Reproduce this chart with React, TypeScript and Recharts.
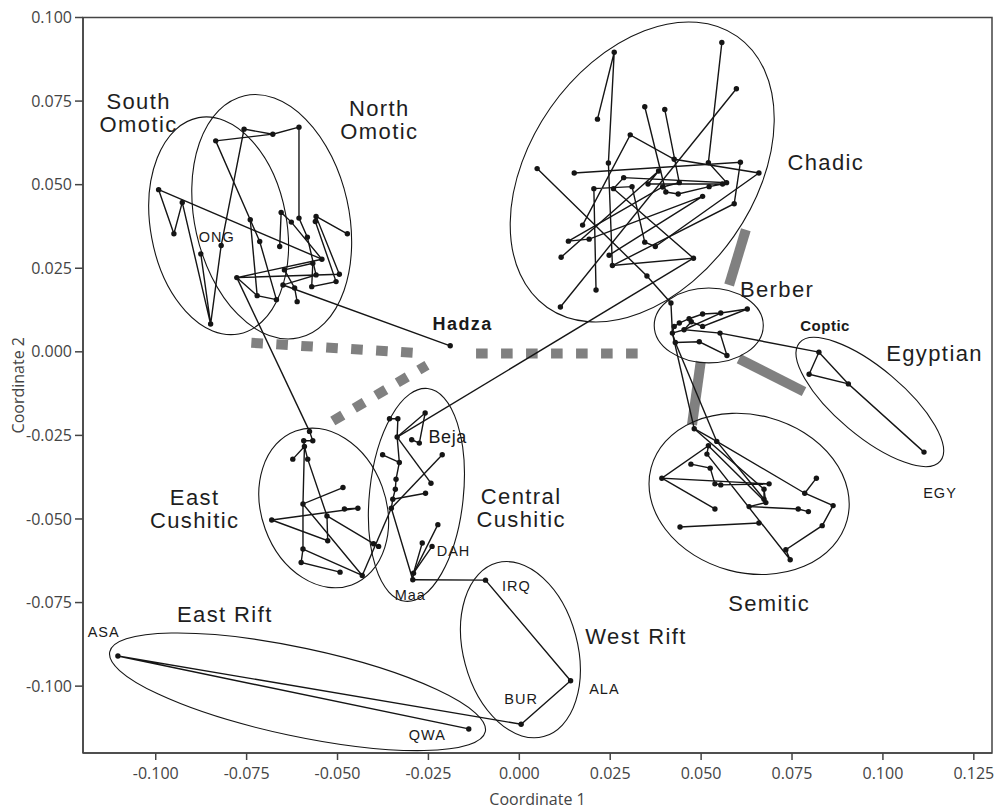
import React from 'react';
import { ScatterChart, Scatter, XAxis, YAxis, ReferenceLine, ReferenceArea } from 'recharts';

type Sample = [string, number, number];

// ---- axes ----
const X_DOMAIN: [number, number] = [-0.12, 0.13];
const Y_DOMAIN: [number, number] = [-0.12, 0.1];
const xTicks = [-0.1, -0.075, -0.05, -0.025, 0, 0.025, 0.05, 0.075, 0.1, 0.125];
const yTicks = [-0.1, -0.075, -0.05, -0.025, 0, 0.025, 0.05, 0.075, 0.1];

// ---- populations (Coordinate 1, Coordinate 2) ----
const omoticSamples: Sample[] = [
  ['o1', -0.0992, 0.0485], ['o2', -0.095, 0.0353], ['o3', -0.0927, 0.0447],
  ['o4', -0.0876, 0.0293], ['o5', -0.0849, 0.0083], ['o6', -0.082, 0.0318],
  ['o7', -0.0835, 0.0631], ['o8', -0.0757, 0.0666], ['o9', -0.0678, 0.0651],
  ['o10', -0.0606, 0.0672], ['o11', -0.0606, 0.04], ['o12', -0.0655, 0.0417],
  ['o13', -0.0659, 0.0315], ['o14', -0.0627, 0.0388], ['o15', -0.074, 0.0395],
  ['o16', -0.0714, 0.033], ['o17', -0.0583, 0.0343], ['o18', -0.0559, 0.0405],
  ['o19', -0.0561, 0.039], ['o20', -0.0473, 0.0353], ['o21', -0.0543, 0.0277],
  ['o22', -0.0568, 0.0265], ['o23', -0.0646, 0.0245], ['o24', -0.0495, 0.0232],
  ['o25', -0.0559, 0.023], ['o26', -0.0504, 0.021], ['o27', -0.0571, 0.0195],
  ['o28', -0.0777, 0.0222], ['o29', -0.065, 0.02], ['o30', -0.0618, 0.0191],
  ['o31', -0.0721, 0.0168], ['o32', -0.0668, 0.0156], ['o33', -0.0611, 0.015],
];
const hadzaSample: Sample[] = [['hadza', -0.019, 0.0018]];

const chadicSamples: Sample[] = [
  ['c1', 0.0261, 0.0896], ['c2', 0.0215, 0.0696], ['c3', 0.0557, 0.0925],
  ['c4', 0.0597, 0.0787], ['c5', 0.0345, 0.0733], ['c6', 0.04, 0.0725],
  ['c7', 0.0305, 0.0649], ['c8', 0.0049, 0.0548], ['c9', 0.0151, 0.0535],
  ['c10', 0.0245, 0.0565], ['c11', 0.0426, 0.0576], ['c12', 0.052, 0.0566],
  ['c13', 0.0608, 0.0567], ['c14', 0.0659, 0.0535], ['c15', 0.0287, 0.0521],
  ['c16', 0.0383, 0.0541], ['c17', 0.0205, 0.0488], ['c18', 0.0259, 0.0488],
  ['c19', 0.031, 0.0494], ['c20', 0.0354, 0.0502], ['c21', 0.0394, 0.0493],
  ['c22', 0.0403, 0.0478], ['c23', 0.0437, 0.0472], ['c24', 0.044, 0.0506],
  ['c25', 0.0504, 0.0465], ['c26', 0.0522, 0.0494], ['c27', 0.0559, 0.0502],
  ['c28', 0.057, 0.0506], ['c29', 0.0591, 0.0443], ['c30', 0.0174, 0.0379],
  ['c31', 0.0135, 0.0331], ['c32', 0.0192, 0.0337], ['c33', 0.0115, 0.0283],
  ['c34', 0.0247, 0.0289], ['c35', 0.0345, 0.0328], ['c36', 0.0374, 0.0315],
  ['c37', 0.0256, 0.0258], ['c38', 0.0479, 0.028], ['c39', 0.0351, 0.0227],
  ['c40', 0.0211, 0.0185], ['c41', 0.0113, 0.0134],
];

const berberSamples: Sample[] = [
  ['b1', 0.0417, 0.0146], ['b2', 0.0627, 0.0128], ['b3', 0.0554, 0.0116],
  ['b4', 0.0504, 0.0113], ['b5', 0.0467, 0.0099], ['b6', 0.044, 0.0086],
  ['b7', 0.0426, 0.0076], ['b8', 0.0421, 0.0056], ['b9', 0.0429, 0.0028],
  ['b10', 0.0495, 0.003], ['b11', 0.0552, 0.0056], ['b12', 0.0571, -0.0011],
  ['b13', 0.0504, 0.0076], ['b14', 0.0453, 0.0066], ['b15', 0.0473, 0.009],
];

const egyptianSamples: Sample[] = [
  ['e1', 0.0824, -0.0001], ['e2', 0.0797, -0.0067], ['e3', 0.0905, -0.0096],
  ['e4', 0.1113, -0.03],
];

const semiticSamples: Sample[] = [
  ['s1', 0.0481, -0.023], ['s2', 0.0543, -0.0268], ['s3', 0.052, -0.0281],
  ['s4', 0.0516, -0.0306], ['s5', 0.0472, -0.0336], ['s6', 0.0525, -0.0348],
  ['s7', 0.0392, -0.0378], ['s8', 0.0538, -0.0395], ['s9', 0.0554, -0.0398],
  ['s10', 0.0687, -0.0395], ['s11', 0.0673, -0.0411], ['s12', 0.0817, -0.0378],
  ['s13', 0.0785, -0.0423], ['s14', 0.0673, -0.0441], ['s15', 0.0678, -0.0451],
  ['s16', 0.0863, -0.046], ['s17', 0.0632, -0.0463], ['s18', 0.0767, -0.047],
  ['s19', 0.0795, -0.0478], ['s20', 0.0538, -0.047], ['s21', 0.0659, -0.0512],
  ['s22', 0.0442, -0.0524], ['s23', 0.0833, -0.052], ['s24', 0.0733, -0.0592],
  ['s25', 0.0745, -0.0622],
];

const eastCushiticSamples: Sample[] = [
  ['k1', -0.0577, -0.0238], ['k2', -0.0568, -0.0266], ['k3', -0.0593, -0.0266],
  ['k4', -0.0591, -0.0283], ['k5', -0.0623, -0.0321], ['k6', -0.0582, -0.0321],
  ['k7', -0.0485, -0.0406], ['k8', -0.0595, -0.0455], ['k9', -0.0481, -0.047],
  ['k10', -0.0444, -0.0468], ['k11', -0.0529, -0.0491], ['k12', -0.0681, -0.0503],
  ['k13', -0.0527, -0.0565], ['k14', -0.0595, -0.059], ['k15', -0.06, -0.063],
  ['k16', -0.0401, -0.0574], ['k17', -0.0387, -0.0582], ['k18', -0.0493, -0.0659],
  ['k19', -0.0432, -0.0669],
];

const centralCushiticSamples: Sample[] = [
  ['q1', -0.0357, -0.02], ['q2', -0.0334, -0.02], ['q3', -0.0259, -0.0183],
  ['q4', -0.0275, -0.0273], ['q5', -0.0296, -0.0263], ['q6', -0.0336, -0.0255],
  ['q7', -0.0376, -0.0308], ['q8', -0.033, -0.0331], ['q9', -0.0212, -0.0308],
  ['q10', -0.0339, -0.0381], ['q11', -0.0243, -0.0393], ['q12', -0.0341, -0.0411],
  ['q13', -0.0258, -0.0423], ['q14', -0.0348, -0.0441], ['q15', -0.0352, -0.0468],
  ['q16', -0.0224, -0.0517], ['q17', -0.0267, -0.0572], ['q18', -0.024, -0.0582],
  ['q19', -0.0291, -0.0662], ['q20', -0.0293, -0.0682],
];

const riftSamples: Sample[] = [
  ['irq', -0.0093, -0.0683], ['ala', 0.0141, -0.0984], ['bur', 0.0005, -0.1114],
  ['asa', -0.1104, -0.091], ['qwa', -0.0139, -0.1128],
];

// ---- network paths (sample ids, drawn in order) ----
const omoticLinks: string[][] = [
  ['o1', 'o2', 'o3', 'o5', 'o4', 'o5', 'o6', 'o8', 'o9', 'o10', 'o11', 'o17', 'o25', 'o29', 'hadza'],
  ['o7', 'o9'],
  ['o7', 'o15', 'o16', 'o32'],
  ['o1', 'o21'],
  ['o13', 'o12', 'o14', 'o21', 'o28', 'o24', 'o18', 'o20'],
  ['o19', 'o26', 'o27', 'o22', 'o23', 'o30', 'o33'],
  ['o28', 'o31', 'o32'],
  ['o15', 'o31'],
  ['o28', 'k1'],
];
const chadicLinks: string[][] = [
  ['c2', 'c1', 'c10', 'c37', 'c38', 'c18', 'c15', 'c28', 'c12', 'c3'],
  ['c41', 'c4'],
  ['c8', 'c39', 'b1'],
  ['c9', 'c13', 'c29', 'c37'],
  ['c30', 'c7', 'c11', 'c14', 'c36', 'c35', 'c19', 'c17', 'c40'],
  ['c5', 'c22', 'c23', 'c26', 'c27', 'c20', 'c16', 'c33'],
  ['c6', 'c24', 'c21', 'c31', 'c32', 'c25', 'c34'],
  ['q6', 'c38'],
];
const berberLinks: string[][] = [
  ['b2', 'b3', 'b4', 'b5', 'b6', 'b7', 'b8', 'b14', 'b3'],
  ['b1', 'b8', 'b9', 'b10', 'b12', 'b11', 'b14', 'b15', 'b13', 'b2'],
  ['b11', 'e1'],
  ['b8', 's1'],
  ['b9', 's2'],
];
const egyptianLinks: string[][] = [['e4', 'e3', 'e2', 'e1', 'e3']];
const semiticLinks: string[][] = [
  ['s1', 's2', 's13', 's16', 's23', 's24', 's25', 's4', 's3', 's7', 's10', 's9', 's8', 's6', 's5'],
  ['s7', 's20'],
  ['s12', 's13'],
  ['s22', 's21'],
  ['s17', 's18', 's19'],
  ['s2', 's14', 's15', 's11'],
  ['s3', 's15', 's17'],
  ['s1', 's11', 's14'],
];
const cushiticLinks: string[][] = [
  ['k1', 'k2', 'k3', 'k4', 'k5'],
  ['k4', 'k8', 'k14', 'k15', 'k18'],
  ['k4', 'k6', 'k11', 'k13', 'k12', 'k10', 'k9'],
  ['k7', 'k8', 'k19', 'k14'],
  ['k11', 'k16', 'k17'],
  ['k19', 'q15'],
  ['q1', 'q2', 'q6', 'q8', 'q10', 'q12', 'q14', 'q15', 'q20', 'q19', 'q16'],
  ['q6', 'q3', 'q4', 'q5'],
  ['q7', 'q8'],
  ['q6', 'q11'],
  ['q9', 'q15'],
  ['q13', 'q14'],
  ['q17', 'q19', 'q18'],
];
const riftLinks: string[][] = [['q20', 'irq', 'ala', 'bur', 'asa', 'qwa']];

// ---- group ellipses: centre, semi-axes (axis units) and tilt in degrees ----
const groupEllipses = [
  { name: 'South Omotic', x: -0.0827, y: 0.0377, rx: 0.0187, ry: 0.0329, angle: -10.5 },
  { name: 'North Omotic', x: -0.0681, y: 0.0404, rx: 0.0212, ry: 0.0371, angle: -12.6 },
  { name: 'Chadic', x: 0.0338, y: 0.0538, rx: 0.0308, ry: 0.0495, angle: 35 },
  { name: 'Berber', x: 0.0521, y: 0.0079, rx: 0.015, ry: 0.0112, angle: 0 },
  { name: 'Egyptian', x: 0.0964, y: -0.015, rx: 0.0093, ry: 0.0275, angle: -50 },
  { name: 'Semitic', x: 0.0632, y: -0.0425, rx: 0.0279, ry: 0.0236, angle: 15 },
  { name: 'East Cushitic', x: -0.0538, y: -0.0467, rx: 0.0171, ry: 0.0245, angle: -20 },
  { name: 'Central Cushitic', x: -0.0283, y: -0.0428, rx: 0.0129, ry: 0.032, angle: 6 },
  { name: 'East Rift', x: -0.061, y: -0.1017, rx: 0.0528, ry: 0.0132, angle: 12 },
  { name: 'West Rift', x: 0.0003, y: -0.0891, rx: 0.0157, ry: 0.0269, angle: -15 },
];

// ---- grey connectors between branches ----
const solidConnectors = [
  [{ x: 0.0623, y: 0.0365 }, { x: 0.0577, y: 0.02 }],
  [{ x: 0.0499, y: -0.0029 }, { x: 0.0475, y: -0.0218 }],
  [{ x: 0.0604, y: -0.0021 }, { x: 0.0783, y: -0.0119 }],
];
const dottedConnectors = [
  [{ x: -0.0737, y: 0.0027 }, { x: -0.0293, y: -0.0003 }],
  [{ x: -0.0119, y: -0.0005 }, { x: 0.033, y: -0.0005 }],
  [{ x: -0.0513, y: -0.0207 }, { x: -0.0254, y: -0.004 }],
];

// ---- text ----
const groupLabels = [
  { lines: ['South', 'Omotic'], x: -0.1047, y: 0.0749 },
  { lines: ['North', 'Omotic'], x: -0.0385, y: 0.073 },
  { lines: ['Chadic'], x: 0.0843, y: 0.0568 },
  { lines: ['Berber'], x: 0.0709, y: 0.0189 },
  { lines: ['Egyptian'], x: 0.1142, y: -0.0003 },
  { lines: ['Semitic'], x: 0.0687, y: -0.0751 },
  { lines: ['East', 'Cushitic'], x: -0.0893, y: -0.0434 },
  { lines: ['Central', 'Cushitic'], x: 0.0005, y: -0.0431 },
  { lines: ['East Rift'], x: -0.081, y: -0.0784 },
  { lines: ['West Rift'], x: 0.0321, y: -0.085 },
];
const sampleLabels = [
  { text: 'ONG', x: -0.0832, y: 0.0344, kind: 'small' },
  { text: 'Hadza', x: -0.0156, y: 0.0084, kind: 'hadza' },
  { text: 'Beja', x: -0.0197, y: -0.0256, kind: 'beja' },
  { text: 'DAH', x: -0.0181, y: -0.0595, kind: 'small' },
  { text: 'Maa', x: -0.03, y: -0.0727, kind: 'small' },
  { text: 'IRQ', x: -0.0008, y: -0.07, kind: 'small' },
  { text: 'ALA', x: 0.0234, y: -0.1008, kind: 'small' },
  { text: 'BUR', x: 0.0005, y: -0.1038, kind: 'small' },
  { text: 'QWA', x: -0.0253, y: -0.1146, kind: 'small' },
  { text: 'ASA', x: -0.1143, y: -0.0838, kind: 'small' },
  { text: 'Coptic', x: 0.0841, y: 0.0079, kind: 'coptic' },
  { text: 'EGY', x: 0.1157, y: -0.0422, kind: 'small' },
];

// ---- layout ----
const CHART_W = 996;
const CHART_H = 809;
const MARGIN = { top: 17.5, right: 4, bottom: 0, left: 0 };
const Y_AXIS_W = 83;
const X_AXIS_H = 56;
const PLOT_W = CHART_W - MARGIN.left - MARGIN.right - Y_AXIS_W;
const PLOT_H = CHART_H - MARGIN.top - MARGIN.bottom - X_AXIS_H;
const PX_PER_X = PLOT_W / (X_DOMAIN[1] - X_DOMAIN[0]);
const PX_PER_Y = PLOT_H / (Y_DOMAIN[1] - Y_DOMAIN[0]);

const INK = '#151515';
const AXIS = '#444';
const GREY = '#808080';
const TEXT_FONT = '"Liberation Sans", Arial, sans-serif';
const AXIS_FONT = '"Open Sans", sans-serif';

const allSamples: Sample[] = [
  ...omoticSamples, ...hadzaSample, ...chadicSamples, ...berberSamples, ...egyptianSamples,
  ...semiticSamples, ...eastCushiticSamples, ...centralCushiticSamples, ...riftSamples,
];
const samplePos: Record<string, { x: number; y: number }> = {};
allSamples.forEach(([id, x, y]) => { samplePos[id] = { x, y }; });
const dotData = allSamples.map(([id, x, y]) => ({ id, x, y }));
const allLinks = [
  ...omoticLinks, ...chadicLinks, ...berberLinks, ...egyptianLinks,
  ...semiticLinks, ...cushiticLinks, ...riftLinks,
];
const linkData = allLinks.map((path) => path.map((id) => ({ id, ...samplePos[id] })));
const groupLabelData = groupLabels.map((l) => ({ ...l }));
const sampleLabelData = sampleLabels.map((l) => ({ ...l }));

const fmt = (v: number) => v.toFixed(3);

const NoMark = () => <g />;

const Dot = (p: any) => <circle cx={p.cx} cy={p.cy} r={2.7} fill={INK} />;

const EllipseShape = (p: any) => {
  const { cx, cy, payload } = p;
  return (
    <ellipse
      cx={cx}
      cy={cy}
      rx={payload.rx * PX_PER_X}
      ry={payload.ry * PX_PER_Y}
      transform={`rotate(${payload.angle} ${cx} ${cy})`}
      fill="none"
      stroke={INK}
      strokeWidth={1.1}
    />
  );
};

const GroupLabel = (p: any) => {
  const { cx, cy, payload } = p;
  return (
    <text
      x={cx}
      y={cy}
      textAnchor="middle"
      dominantBaseline="central"
      fontFamily={TEXT_FONT}
      fontSize={22}
      letterSpacing={1.4}
      fill="#1e1e1e"
    >
      {payload.lines.map((line: string, i: number) => (
        <tspan key={line} x={cx} dy={i === 0 ? 0 : 23}>{line}</tspan>
      ))}
    </text>
  );
};

const labelFonts: Record<string, { size: number; weight: string; spacing: number }> = {
  small: { size: 14.5, weight: 'normal', spacing: 1 },
  hadza: { size: 18, weight: 'bold', spacing: 1.4 },
  beja: { size: 18, weight: 'normal', spacing: 0.6 },
  coptic: { size: 15, weight: 'bold', spacing: 0.5 },
};

const SampleLabel = (p: any) => {
  const { cx, cy, payload } = p;
  const f = labelFonts[payload.kind];
  return (
    <text
      x={cx}
      y={cy}
      textAnchor="middle"
      dominantBaseline="central"
      fontFamily={TEXT_FONT}
      fontSize={f.size}
      fontWeight={f.weight}
      letterSpacing={f.spacing}
      fill="#1a1a1a"
    >
      {payload.text}
    </text>
  );
};

export default function App() {
  return (
    <div style={{ position: 'fixed', left: 0, top: 0, width: CHART_W, height: CHART_H, background: '#fff' }}>
      <ScatterChart width={CHART_W} height={CHART_H} margin={MARGIN}>
        <XAxis
          type="number"
          dataKey="x"
          domain={X_DOMAIN}
          ticks={xTicks}
          interval={0}
          allowDataOverflow
          tickFormatter={fmt}
          height={X_AXIS_H}
          tickSize={7}
          tickMargin={8}
          axisLine={{ stroke: AXIS, strokeWidth: 1.5 }}
          tickLine={{ stroke: AXIS, strokeWidth: 1.5 }}
          tick={{ fill: AXIS, fontSize: 16, fontFamily: AXIS_FONT }}
          label={{ value: 'Coordinate 1', position: 'insideBottom', offset: 4, fill: AXIS, fontSize: 16, fontFamily: AXIS_FONT }}
        />
        <YAxis
          type="number"
          dataKey="y"
          domain={Y_DOMAIN}
          ticks={yTicks}
          interval={0}
          allowDataOverflow
          tickFormatter={fmt}
          width={Y_AXIS_W}
          tickSize={8}
          tickMargin={3}
          axisLine={{ stroke: AXIS, strokeWidth: 1.5 }}
          tickLine={{ stroke: AXIS, strokeWidth: 1.5 }}
          tick={{ fill: AXIS, fontSize: 16, fontFamily: AXIS_FONT }}
          label={{
            value: 'Coordinate 2',
            angle: -90,
            position: 'insideLeft',
            offset: 18,
            fill: AXIS,
            fontSize: 16,
            fontFamily: AXIS_FONT,
            style: { textAnchor: 'middle' },
          }}
        />
        <ReferenceArea
          x1={X_DOMAIN[0]}
          x2={X_DOMAIN[1]}
          y1={Y_DOMAIN[0]}
          y2={Y_DOMAIN[1]}
          fill="none"
          fillOpacity={0}
          stroke={AXIS}
          strokeWidth={1.5}
          ifOverflow="visible"
        />
        <Scatter data={groupEllipses} shape={EllipseShape} isAnimationActive={false} />
        {solidConnectors.map((seg, i) => (
          <ReferenceLine key={`s${i}`} segment={seg} stroke={GREY} strokeWidth={10} ifOverflow="visible" />
        ))}
        {dottedConnectors.map((seg, i) => (
          <ReferenceLine
            key={`d${i}`}
            segment={seg}
            stroke={GREY}
            strokeWidth={10}
            strokeDasharray="11.6 13.4"
            ifOverflow="visible"
          />
        ))}
        {linkData.map((path, i) => (
          <Scatter
            key={`l${i}`}
            data={path}
            line={{ stroke: INK, strokeWidth: 1.4 }}
            shape={NoMark}
            isAnimationActive={false}
          />
        ))}
        <Scatter data={dotData} shape={Dot} isAnimationActive={false} />
        <Scatter data={groupLabelData} shape={GroupLabel} isAnimationActive={false} />
        <Scatter data={sampleLabelData} shape={SampleLabel} isAnimationActive={false} />
      </ScatterChart>
    </div>
  );
}
